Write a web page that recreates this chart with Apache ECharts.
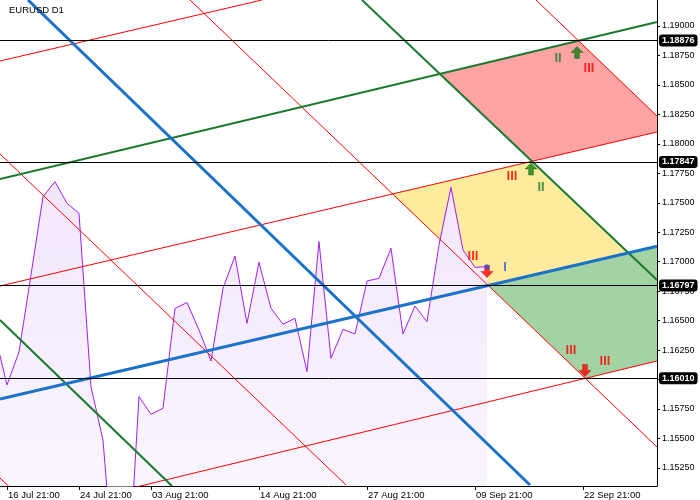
<!DOCTYPE html>
<html><head><meta charset="utf-8">
<script src="https://cdn.jsdelivr.net/npm/echarts@6/dist/echarts.min.js"></script>
<style>html,body{margin:0;padding:0;background:#fff}#c{width:700px;height:500px}</style>
</head><body><div id="c"></div>
<script>
// ---------- data ----------
const chartTitle = 'EURUSD D1';
const tickIdx = [0, 6, 12, 21, 30, 39, 48];
const tickLabels = ['16 Jul 21:00', '24 Jul 21:00', '03 Aug 21:00', '14 Aug 21:00', '27 Aug 21:00', '09 Sep 21:00', '22 Sep 21:00'];
const yTicks = [1.1525, 1.155, 1.1575, 1.16, 1.1625, 1.165, 1.1675, 1.17, 1.1725, 1.175, 1.1775, 1.18, 1.1825, 1.185, 1.1875, 1.19];
const xRange = [-0.5833, 54.1667];
const yRange = [1.150967, 1.192206];
const oscStartIdx = -1;
const oscValues = [1.16378, 1.15954, 1.16234, 1.16887, 1.17552, 1.17679, 1.17496, 1.17411, 1.15939, 1.15487,
  1.14240, 1.14120, 1.15855, 1.15705, 1.15756, 1.16603, 1.16654, 1.16421, 1.16157, 1.16774,
  1.17048, 1.16477, 1.16995, 1.16605, 1.16469, 1.16520, 1.16067, 1.17170, 1.16180, 1.16426,
  1.16387, 1.16836, 1.16859, 1.17114, 1.16387, 1.16624, 1.16491, 1.17142, 1.17631, 1.17099,
  1.16952, 1.16958];
const levels = [1.18876, 1.17847, 1.16797, 1.16010];
// fan / grid lines: two anchor points each [barIndex, price]
const redA1 = [[-0.5833, 1.187030], [21.25, 1.192206]];
const greenA = [[-0.5833, 1.177017], [54.1667, 1.190339]];
const redA2 = [[-0.5833, 1.167938], [54.1667, 1.181006]];
const blueA = [[-0.5833, 1.158350], [54.1667, 1.171307]];
const redA3 = [[-0.5833, 1.148082], [54.1667, 1.161574]];
const redD0 = [[-0.5833, 1.151646], [7.75, 1.143500]];
const redD1 = [[-0.5833, 1.179139], [28.25, 1.151052]];
const greenD1 = [[-0.5833, 1.165053], [13.75, 1.150967]];
const blueD = [[1.75, 1.192206], [43.5833, 1.151052]];
const redD2 = [[15.25, 1.192206], [54.1667, 1.154277]];
const greenD2 = [[29.5833, 1.192206], [54.1667, 1.168447]];
const redD3 = [[44.0833, 1.192206], [54.1667, 1.182363]];
const arrowsDown = [[40, 1.169168], [48.1667, 1.160768]];
const arrowsUp = [[47.5, 1.187751], [43.6667, 1.177866]];
const marksText = ['III', 'I', 'II', 'III', 'III', 'II', 'III', 'III'];
const marksPos = [[38.833, 1.170484], [41.5, 1.169550], [45.9167, 1.187285], [48.5, 1.186436],
  [42.0833, 1.177272], [44.5, 1.176339], [47.0, 1.162508], [49.8333, 1.161574]];
const marksKind = ['r', 'b', 'g', 'r', 'r', 'g', 'r', 'r'];

// ---------- helpers ----------
function lineAt(L, x) { const [[x1, y1], [x2, y2]] = L; return y1 + (y2 - y1) * (x - x1) / (x2 - x1); }
function cross(A, B) {
  const mA = (A[1][1] - A[0][1]) / (A[1][0] - A[0][0]), bA = A[0][1] - mA * A[0][0];
  const mB = (B[1][1] - B[0][1]) / (B[1][0] - B[0][0]), bB = B[0][1] - mB * B[0][0];
  const x = (bB - bA) / (mA - mB);
  return [x, mA * x + bA];
}
const xE = xRange[1];
const zoneYellow = [cross(redD2, redA2), cross(redA2, greenD2), cross(greenD2, blueA), cross(blueA, redD2)];
const zonePink = [cross(greenD2, greenA), cross(greenA, redD3), [xE, lineAt(redD3, xE)], [xE, lineAt(redA2, xE)], cross(redA2, greenD2)];
const zoneGreen = [cross(blueA, redD2), [xE, lineAt(blueA, xE)], [xE, lineAt(redA3, xE)], cross(redA3, redD2)];

const FONT = 'Liberation Sans';
const RED = '#ff0000', GREEN = '#1b7a2e', BLUE = '#1a73c8';

function zoneSeries(poly, color) {
  return {
    type: 'custom', z: 1, silent: true, clip: true,
    data: [poly[0]],
    renderItem: (params, api) => ({
      type: 'polygon',
      shape: { points: poly.map(p => api.coord(p)) },
      style: { fill: color }
    })
  };
}
function lineSeries(L, color, width) {
  return {
    type: 'line', z: 3, silent: true, data: L, showSymbol: false, symbol: 'none',
    lineStyle: { color: color, width: width }, clip: true
  };
}
const oscData = oscValues.map((v, i) => [oscStartIdx + i, v]);
const lastPt = oscData[oscData.length - 1];

const markColors = { r: RED, g: GREEN, b: '#2a55e0' };

const option = {
  animation: false,
  backgroundColor: '#fff',
  title: { text: chartTitle, left: 9, top: 5, padding: 0, textStyle: { fontFamily: FONT, fontSize: 9.5, fontWeight: 'normal', color: '#000' } },
  grid: { left: 0, right: 43, top: 0, bottom: 14, containLabel: false },
  xAxis: {
    type: 'value', min: xRange[0], max: xRange[1],
    splitLine: { show: false },
    axisLine: { onZero: false, lineStyle: { color: '#000', width: 1 } },
    axisTick: { customValues: tickIdx, length: 4, lineStyle: { color: '#000' } },
    axisLabel: { customValues: tickIdx, formatter: v => tickLabels[tickIdx.indexOf(v)] || '', align: 'left', margin: 4, padding: [0, 0, 0, 1],
      fontFamily: FONT, fontSize: 9.5, color: '#000' }
  },
  yAxis: {
    type: 'value', position: 'right', min: yRange[0], max: yRange[1],
    splitLine: { show: false },
    axisLine: { show: true, onZero: false, lineStyle: { color: '#000', width: 1 } },
    axisTick: { show: true, customValues: yTicks, length: 3, lineStyle: { color: '#000' } },
    axisLabel: { customValues: yTicks, formatter: v => v.toFixed(5), margin: 5, fontFamily: FONT, fontSize: 9, color: '#000' }
  },
  series: [
    zoneSeries(zoneGreen, '#a3d3a4'),
    zoneSeries(zoneYellow, '#feeb9e'),
    zoneSeries(zonePink, '#ffa3a3'),
    {
      type: 'line', z: 2, data: oscData, showSymbol: false, symbol: 'none', silent: true,
      lineStyle: { color: '#a020f0', width: 1 },
      areaStyle: { origin: 'start', opacity: 1, color: new echarts.graphic.LinearGradient(0, 0, 0, 1, [
        { offset: 0, color: '#f2e6fc' }, { offset: 1, color: '#fcfbff' }]) }
    },
    lineSeries(redA1, RED, 1), lineSeries(redA2, RED, 1), lineSeries(redA3, RED, 1),
    lineSeries(redD0, RED, 1), lineSeries(redD1, RED, 1), lineSeries(redD2, RED, 1), lineSeries(redD3, RED, 1),
    lineSeries(greenA, GREEN, 2), lineSeries(greenD1, GREEN, 2), lineSeries(greenD2, GREEN, 2),
    lineSeries(blueA, BLUE, 3), lineSeries(blueD, BLUE, 3),
    {
      type: 'line', z: 4, data: [], silent: true,
      markLine: {
        silent: true, symbol: ['none', 'none'], animation: false, precision: 5,
        lineStyle: { color: '#000', width: 1, type: 'solid' },
        label: { show: true, position: 'end', distance: 2, formatter: p => Number(p.value).toFixed(5),
          color: '#fff', backgroundColor: '#000', fontFamily: FONT, fontWeight: 'bold', fontSize: 9,
          padding: [2, 3, 1, 3], borderRadius: 3 },
        data: levels.map(v => ({ yAxis: v }))
      }
    },
    {
      type: 'scatter', z: 6, silent: true, data: arrowsDown,
      symbol: 'path://M3,0L7,0L7,5L10,5L5,10L0,5L3,5Z', symbolSize: [12, 12],
      itemStyle: { color: RED, borderColor: '#c00000', borderWidth: 0.5 }
    },
    {
      type: 'scatter', z: 6, silent: true, data: arrowsUp,
      symbol: 'path://M5,0L10,5L7,5L7,10L3,10L3,5L0,5Z', symbolSize: [12, 12],
      itemStyle: { color: '#128012', borderColor: '#0a5a0a', borderWidth: 0.5 }
    },
    {
      type: 'scatter', z: 7, silent: true, data: [lastPt], symbolSize: 5,
      itemStyle: { color: '#2a55e0' }
    },
    {
      type: 'scatter', z: 6, silent: true, symbolSize: 0,
      data: marksPos.map((p, i) => ({ value: p, name: marksText[i],
        label: { color: markColors[marksKind[i]] } })),
      label: { show: true, position: 'inside', formatter: p => p.name, fontFamily: FONT, fontWeight: 'bold', fontSize: 13 }
    }
  ]
};
const chart = echarts.init(document.getElementById('c'), null, { renderer: 'canvas' });
chart.setOption(option);
</script></body></html>
